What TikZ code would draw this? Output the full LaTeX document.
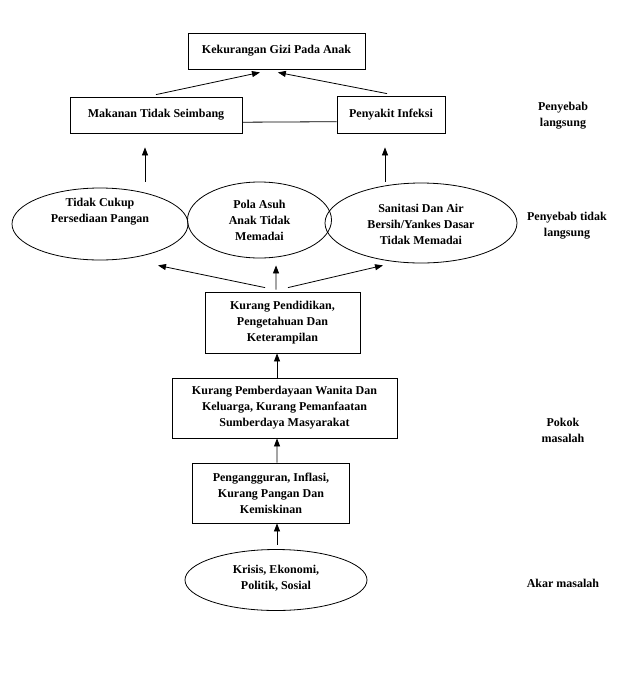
\documentclass[tikz,border=0pt]{standalone}
\usepackage{fontspec}
\setmainfont{Liberation Serif}
\usetikzlibrary{shapes.geometric,arrows.meta}

\begin{document}
\begin{tikzpicture}[x=0.75pt,y=0.75pt,yscale=-1,
	box/.style={draw,line width=0.6pt,align=center,inner sep=1pt,font=\bfseries\fontsize{9}{12}\selectfont},
	oval/.style={draw,ellipse,line width=0.6pt,inner sep=0pt},
	txt/.style={align=center,inner sep=0.75pt,font=\bfseries\fontsize{9}{12}\selectfont},
	arr/.style={line width=0.6pt,-{Triangle[length=6pt,width=4.5pt]}}]
	\useasboundingbox (0,0) rectangle (625,683);
	%note: yscale=-1, so yshift>0 moves down here
	
	%Shape: Rectangle [top]
	\node[box,minimum width=132.75pt,minimum height=27pt] (kgpa) at (276.5,51) {Kekurangan Gizi Pada Anak};
	%Shape: Rectangle [direct causes]
	\node[box,minimum width=129pt,minimum height=27pt] (mts) at (156,115) {Makanan Tidak Seimbang};
	\node[box,minimum width=81pt,minimum height=27.75pt] (pi) at (391,114.5) {Penyakit Infeksi};
	
	%Shape: Ellipse [indirect causes]
	\node[oval,minimum width=132pt,minimum height=54pt] (tcp) at (100,224) {};
	\node[oval,minimum width=108pt,minimum height=57pt] (pola) at (259.5,220) {};
	\node[oval,minimum width=144pt,minimum height=60pt] (san) at (421,223) {};
	% Text Node
	\node[txt] (tcpT) at (100,212) {Tidak Cukup\\Persediaan Pangan};
	\node[txt] (polaT) at (259.5,220) {Pola Asuh\\Anak Tidak\\Memadai};
	\node[txt] (sanT) at (421,224) {Sanitasi Dan Air\\Bersih/Yankes Dasar\\Tidak Memadai};
	
	%Shape: Rectangle [main problem]
	\node[box,minimum width=116.25pt,minimum height=45.75pt] (kp) at (282.5,322.5) {Kurang Pendidikan,\\Pengetahuan Dan\\Keterampilan};
	\node[box,minimum width=168.75pt,minimum height=45pt] (kpw) at (284.5,408) {Kurang Pemberdayaan Wanita Dan\\Keluarga, Kurang Pemanfaatan\\Sumberdaya Masyarakat};
	\node[box,minimum width=117.75pt,minimum height=45pt] (pik) at (271,493) {Pengangguran, Inflasi,\\Kurang Pangan Dan\\Kemiskinan};
	
	%Shape: Ellipse [root]
	\node[oval,minimum width=136.5pt,minimum height=45.75pt] (kr) at (276,580) {};
	% Text Node
	\node[txt] (krT) at (276,578) {Krisis, Ekonomi,\\Politik, Sosial};
	
	% Text Node [levels]
	\node[txt] (lv1) at (563,116) {Penyebab\\langsung};
	\node[txt] (lv2) at (567,226) {Penyebab tidak\\langsung};
	\node[txt] (lv3) at (563,430) {Pokok\\masalah};
	\node[txt] (lv4) at (563,583) {Akar masalah};
	
	%Straight Lines
	\draw[arr] ([yshift=-1.5pt]mts.north) -- ([xshift=-12.4pt,yshift=2.25pt]kgpa.south);
	\draw[arr] ([xshift=-3pt,yshift=-1.5pt]pi.north) -- ([xshift=1pt,yshift=2.25pt]kgpa.south);
	\draw[line width=0.6pt] ([yshift=5.4pt]mts.east) -- ([yshift=5.4pt]pi.west);
	\draw[arr] ([xshift=33.75pt,yshift=-4.5pt]tcp.north) -- ([xshift=-8.25pt,yshift=10.5pt]mts.south);
	\draw[arr] ([xshift=-27pt,yshift=-0.75pt]san.north) -- ([xshift=-4.5pt,yshift=10.5pt]pi.south);
	\draw[arr] ([xshift=-13.1pt,yshift=-3pt]kp.north) -- ([xshift=43.5pt,yshift=3.75pt]tcp.south);
	\draw[arr] ([xshift=-4.9pt,yshift=-1.5pt]kp.north) -- ([xshift=12.4pt,yshift=5.25pt]pola.south);
	\draw[arr] ([xshift=4.1pt,yshift=-3pt]kp.north) -- ([xshift=-28.5pt,yshift=1.5pt]san.south);
	\draw[arr] ([xshift=-5.6pt]kpw.north) -- ([xshift=-4.1pt]kp.south);
	\draw[arr] ([xshift=4.5pt]pik.north) -- ([xshift=-5.6pt]kpw.south);
	\draw[arr] ([xshift=0.75pt,yshift=-3.4pt]kr.north) -- ([xshift=4.5pt]pik.south);
	
\end{tikzpicture}
\end{document}
